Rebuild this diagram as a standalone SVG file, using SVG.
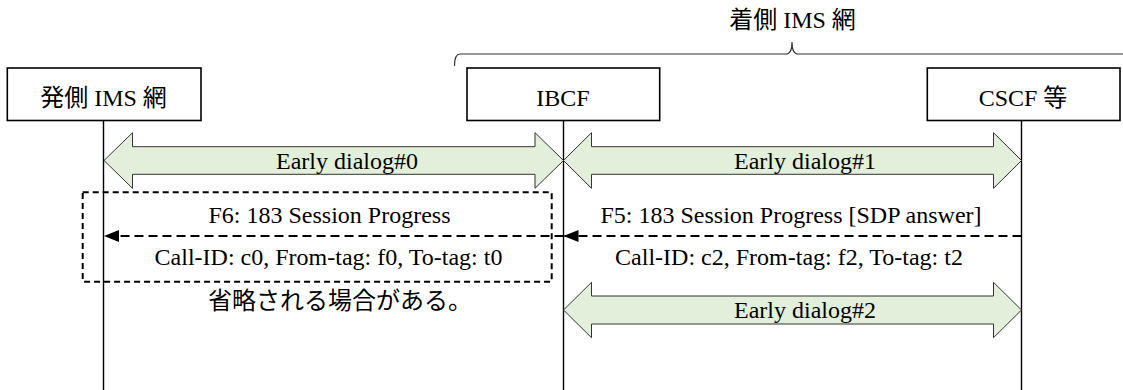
<svg xmlns="http://www.w3.org/2000/svg" width="1123" height="390" viewBox="0 0 1123 390">
<style>
.t{font-family:"Liberation Serif","Noto Sans CJK JP",serif;font-size:24px;fill:#000;text-anchor:middle}
.box{fill:#fff;stroke:#000;stroke-width:1.6}
.life{stroke:#000;stroke-width:1.4;fill:none}
.dlg{fill:#e2efda;stroke:#333;stroke-width:1}
.msg{stroke:#000;stroke-width:2;stroke-dasharray:9 5;fill:none}
.omit{fill:none;stroke:#000;stroke-width:2;stroke-dasharray:6 4}
.brace{fill:none;stroke:#333;stroke-width:1.2}
</style>
<defs>
<marker id="ah" markerUnits="userSpaceOnUse" markerWidth="16" markerHeight="12" refX="15" refY="6" orient="auto">
<path d="M0,0 L15,6 L0,12 z" fill="#000"/>
</marker>
</defs>
<rect width="1123" height="390" fill="#fff"/>
<g id="group-terminating">
<path class="brace" d="M454.5,66 Q454.5,54 460,54 L786,54 Q792,54 792,42 Q792,54 798,54 L1124,54"/>
<text class="t" x="792.5" y="28">着側 IMS 網</text>
</g>
<g id="connectors">
<line class="life" x1="103.5" y1="120" x2="103.5" y2="390"/>
<line class="life" x1="563.5" y1="120" x2="563.5" y2="390"/>
<line class="life" x1="1021.5" y1="120" x2="1021.5" y2="390"/>
<polygon class="dlg" points="104,160.5 132.5,132.7 132.5,146.7 535,146.7 535,132.7 563.5,160.5 535,188.3 535,174.3 132.5,174.3 132.5,188.3"/>
<text class="t" x="347" y="168.5">Early dialog#0</text>
<polygon class="dlg" points="563.5,160.5 591.5,132.7 591.5,146.7 993.5,146.7 993.5,132.7 1021.5,160.5 993.5,188.3 993.5,174.3 591.5,174.3 591.5,188.3"/>
<text class="t" x="805" y="168.5">Early dialog#1</text>
<line class="msg" x1="1021.5" y1="236" x2="563.5" y2="236" marker-end="url(#ah)"/>
<text class="t" x="791" y="223">F5: 183 Session Progress [SDP answer]</text>
<text class="t" x="789" y="265">Call-ID: c2, From-tag: f2, To-tag: t2</text>
<line class="msg" x1="563.5" y1="236" x2="104" y2="236" marker-end="url(#ah)"/>
<text class="t" x="329.5" y="223">F6: 183 Session Progress</text>
<text class="t" x="328.5" y="265">Call-ID: c0, From-tag: f0, To-tag: t0</text>
<polygon class="dlg" points="563.5,310 591.5,282.3 591.5,296 993.5,296 993.5,282.3 1021.5,310 993.5,337.7 993.5,324 591.5,324 591.5,337.7"/>
<text class="t" x="805" y="318">Early dialog#2</text>
</g>
<g id="omit-note">
<rect class="omit" x="82.7" y="192.3" width="469" height="89.4"/>
<text class="t" x="340" y="309">省略される場合がある。</text>
</g>
<g id="node-originating">
<rect class="box" x="7.3" y="68" width="193.7" height="52.5"/>
<text class="t" x="103.5" y="106">発側 IMS 網</text>
</g>
<g id="node-ibcf">
<rect class="box" x="467" y="68" width="192.7" height="52.5"/>
<text class="t" x="563" y="106">IBCF</text>
</g>
<g id="node-cscf">
<rect class="box" x="927.3" y="68" width="192.7" height="52.5"/>
<text class="t" x="1023" y="106">CSCF 等</text>
</g>
</svg>
